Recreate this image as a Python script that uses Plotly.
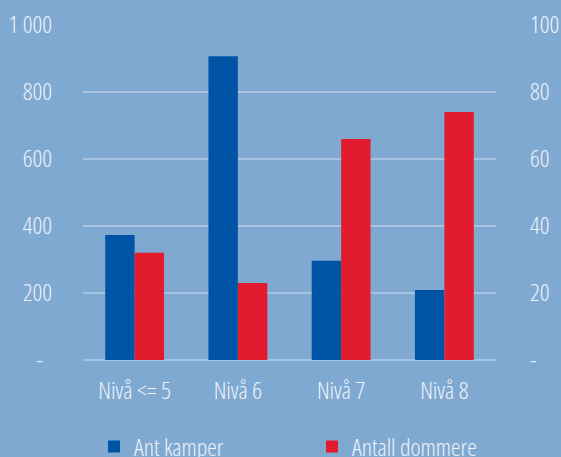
import plotly.graph_objects as go

categories = ["Nivå <= 5", "Nivå 6", "Nivå 7", "Nivå 8"]
ant_kamper = [373, 907, 296, 209]
antall_dommere = [32, 23, 66, 74]
left_ticks = [0, 200, 400, 600, 800, 1000]
left_text = ["-  ", "200", "400", "600", "800", "1 000"]
right_ticks = [0, 20, 40, 60, 80, 100]
right_text = ["-", "20", "40", "60", "80", "100"]

FONT = "Open Sans, DejaVu Sans Condensed, sans-serif"
TXT = "#eef3fa"
BG = "#7fa9d1"
GRID = "#a7c3e0"
FS = 24

fig = go.Figure()
fig.add_trace(go.Bar(x=categories, y=ant_kamper, name="Ant kamper",
                     marker=dict(color="#0054a6", line=dict(width=0)),
                     offsetgroup="a", yaxis="y", legend="legend"))
fig.add_trace(go.Bar(x=categories, y=antall_dommere, name="Antall dommere",
                     marker=dict(color="#e21b2e", line=dict(width=0)),
                     offsetgroup="b", yaxis="y2", legend="legend2"))

tf = dict(size=FS, color=TXT, family=FONT, weight=300)
leg_common = dict(orientation="h", xanchor="left", y=-0.2597, yanchor="middle",
                  font=tf, bgcolor="rgba(0,0,0,0)", itemwidth=30)

fig.update_layout(
    width=561, height=457,
    paper_bgcolor=BG, plot_bgcolor=BG,
    margin=dict(l=83, r=65, t=25, b=97, autoexpand=False),
    barmode="group", bargap=0.43, bargroupgap=0,
    font=tf,
    xaxis=dict(showgrid=False, showline=False, zeroline=False,
               tickfont=tf, ticks="", ticklabelstandoff=14),
    yaxis=dict(range=[0, 1000], tickvals=left_ticks, ticktext=left_text,
               showgrid=True, gridcolor=GRID, gridwidth=2, zeroline=True,
               zerolinecolor=GRID, zerolinewidth=2, showline=False,
               ticks="", ticklabelstandoff=30, tickfont=tf),
    yaxis2=dict(range=[0, 100], tickvals=right_ticks, ticktext=right_text,
                overlaying="y", side="right", showgrid=False, zeroline=False,
                showline=False, ticks="", ticklabelstandoff=33, tickfont=tf),
    legend=dict(x=0.0266, **leg_common),
    legend2=dict(x=0.5545, **leg_common),
    showlegend=True,
)

fig.write_html("out.html", config={"displayModeBar": False},
               post_script="document.body.style.margin='0';document.body.style.background='%s';"
                           "document.querySelectorAll('svg text').forEach(function(t){t.style.fontStretch='75%%';});" % BG)
